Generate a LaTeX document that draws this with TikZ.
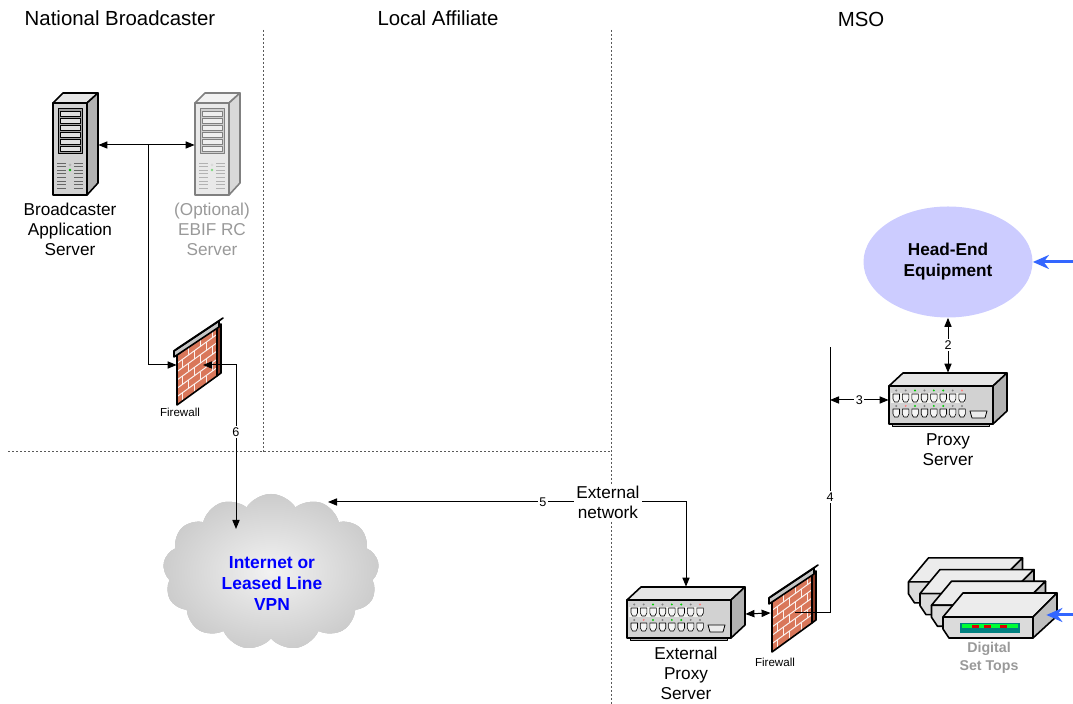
\documentclass[tikz,border=0pt]{standalone}
\usepackage{fontspec}
\setmainfont{Liberation Sans}
\usetikzlibrary{calc, positioning, shapes.geometric, shapes.symbols, arrows.meta}
\definecolor{helav}{HTML}{CCCCFF}
\definecolor{feedblue}{HTML}{3366FF}
\definecolor{vpnblue}{HTML}{0000FF}
\definecolor{optgray}{HTML}{999999}
\definecolor{brick}{HTML}{D9775A}
\definecolor{brickdark}{HTML}{8E3B26}
\newcommand\rjport[2]{\filldraw[fill=gray!8, line width=0.3pt] (#1,#2) -- ++(6.5,0) -- ++(0,5) -- ++(-1.5,3) -- ++(-3.5,0) -- ++(-1.5,-3) -- cycle;}
\newcommand\servertower[3]{\begin{scope}[shift={(#1,#2)}, draw=black!#3!white, line join=round]
\filldraw[fill=gray!20!white!#3!white, line width=0.8pt] (0,0) -- (10,-10) -- (45,-10) -- (34,0) -- cycle;
\filldraw[fill=gray!60!white!#3!white, line width=0.8pt] (34,0) -- (45,-10) -- (45,80) -- (34,92) -- cycle;
\filldraw[fill=gray!35!white!#3!white, line width=0.8pt] (0,0) rectangle (34,92);
\filldraw[fill=gray!75!white!#3!white, line width=0.4pt] (5,5) rectangle (29,50);
\foreach \k in {0,...,5} \filldraw[fill=gray!25!white!#3!white, line width=0.3pt] (7,8+7*\k) rectangle (27,13+7*\k);
\foreach \k in {0,...,7} \draw[gray!80!black!#3!white, line width=0.4pt] (4,60+3.6*\k) -- (13,60+3.6*\k) (21,60+3.6*\k) -- (30,60+3.6*\k);
\fill[gray!60!white!#3!white] (17,62) circle (1.5);
\fill[green!70!black!#3!white] (17,67) circle (1.3);
\end{scope}}
\newcommand\netswitch[2]{\begin{scope}[shift={(#1,#2)}, line join=round]
\filldraw[fill=gray!20, line width=0.8pt] (0,0) -- (14,-13) -- (118,-13) -- (104,0) -- cycle;
\filldraw[fill=gray!60, line width=0.8pt] (104,0) -- (118,-13) -- (118,25) -- (104,38) -- cycle;
\filldraw[fill=gray!55, line width=0.5pt] (3,38) rectangle (100,41);
\filldraw[fill=gray!35, line width=0.8pt] (0,0) rectangle (104,38);
\fill[yellow!12!gray!12] (2,7) rectangle (76,17);
\foreach \i in {0,...,7} {\rjport{4+9.4*\i}{8}\rjport{4+9.4*\i}{23}}
\foreach \i/\ca/\cb in {0/gray/gray, 1/gray/red!50, 2/green!80!black/green!80!black, 3/gray/gray, 4/green!80!black/green!80!black, 5/green!80!black/green!80!black, 6/gray/gray, 7/red!50/gray}
  {\fill[\ca] (7.25+9.4*\i,4.5) circle (1.1); \fill[\cb] (7.25+9.4*\i,20) circle (1.1);}
\filldraw[fill=gray!15, line width=0.4pt] (81,25) -- (98,25) -- (96,32) -- (83,32) -- cycle;
\end{scope}}
\newcommand\firewall[2]{\begin{scope}[shift={(#1,#2)}, line join=round]
\filldraw[fill=brickdark, line width=0.8pt] (40,-29) -- (44,-32) -- (44,-81) -- (40,-79) -- cycle;
\fill[brick] (0,0) -- (0,-50) -- (40,-79) -- (40,-29) -- cycle;
\foreach \k in {1,...,5} \draw[white!90!brick, line width=0.5pt] (0,-8.33*\k) -- (40,-29-8.33*\k);
\foreach \k/\off in {0/0,1/6,2/0,3/6,4/0,5/6} \foreach \m in {0,1,2}
  {\pgfmathsetmacro\xx{5+\off+12*\m}
   \draw[white!90!brick, line width=0.5pt] (\xx,{-8.33*\k-0.725*\xx}) -- (\xx,{-8.33*(\k+1)-0.725*\xx});}
\draw[line width=0.8pt] (0,0) -- (0,-50) -- (40,-79) -- (40,-29) -- cycle;
\filldraw[fill=gray!45, line width=0.8pt] (-3,-48) -- (-3,-54) -- (42,-84) -- (42,-78) -- cycle;
\filldraw[fill=gray!15, line width=0.8pt] (-3,-54) -- (1,-57) -- (46,-87) -- (42,-84) -- cycle;
\end{scope}}
\newcommand\settop[2]{\begin{scope}[shift={(#1,#2)}, line join=round]
\filldraw[fill=gray!15, line width=0.8pt] (0,-21) -- (20,-45) -- (114,-45) -- (90,-21) -- cycle;
\filldraw[fill=gray!50, line width=0.8pt] (90,-21) -- (114,-45) -- (114,-22) -- (90,0) -- cycle;
\filldraw[fill=gray!28, line width=0.8pt] (0,-21) -- (90,-21) -- (90,0) -- (6,0) -- (0,-9) -- cycle;
\fill[teal] (17,-15) rectangle (77,-5);
\fill[green!80!cyan] (19,-13.5) rectangle (75,-9.5);
\foreach \xx in {29,41,57} \fill[red!85!black] (\xx,-13) rectangle (\xx+7,-10);
\end{scope}}
\tikzset{
  hdr/.style={font=\fontsize{10.2}{12}\selectfont},
  lbl/.style={font=\fontsize{8.6}{10}\selectfont, align=center, inner sep=1pt},
  numlbl/.style={font=\fontsize{6.3}{7}\selectfont, fill=white, inner sep=0.8pt},
  fwlbl/.style={font=\fontsize{5.8}{7}\selectfont},
  iconbox/.style={inner sep=0pt, draw=none},
  link/.style={line width=0.5pt, >={Triangle[length=4.5pt,width=3.6pt]}},
  feed/.style={feedblue, line width=1.5pt, -{Stealth[length=8pt,width=7pt]}},
  divider/.style={gray!70!black, line width=0.5pt, dash pattern=on 1pt off 1pt},
  headend/.style={ellipse, fill=helav, minimum width=84.5pt, minimum height=55.5pt, inner sep=0pt, align=center, font=\fontsize{8.6}{10.5}\selectfont\bfseries},
  vpncloud/.style={cloud, cloud puffs=13, cloud puff arc=115, minimum width=108pt, minimum height=78pt, inner color=gray!10, outer color=gray!40, draw=none}
}
\begin{document}
\begin{tikzpicture}[x=0.5pt, y=-0.5pt]
\useasboundingbox (0,0) rectangle (1073,704);

% regions
\draw[divider] (263,30) -- (263,452);
\draw[divider] (611,30) -- (611,704);
\draw[divider] (8,452) -- (611,452);
\node[hdr] (hnb) at (120,18) {National Broadcaster};
\node[hdr] (hla) at (438,18) {Local Affiliate};
\node[hdr] (hmso) at (861,19) {MSO};

% icons
\servertower{53}{103}{100}
\servertower{195}{103}{50}
\firewall{177}{405}
\firewall{772}{652}
\netswitch{627}{600}
\netswitch{889}{386}
\foreach \i in {3,2,1,0} \settop{943-11.5*\i}{638-11.7*\i}
\node[vpncloud] (cloudshape) at (271,572) {};

\node[iconbox, minimum width=22.5pt, minimum height=50pt] (bas) at (75.5,145) {};
\node[iconbox, minimum width=22.5pt, minimum height=50pt] (ebif) at (217.5,145) {};
\node[iconbox, minimum width=20pt, minimum height=40pt] (fw1) at (197,365) {};
\node[iconbox, minimum width=20pt, minimum height=40pt] (fw2) at (791,613) {};
\node[iconbox, minimum width=59pt, minimum height=27pt] (xps) at (686,614) {};
\node[iconbox, minimum width=59pt, minimum height=27pt] (ps) at (948,400) {};
\node[iconbox, minimum width=69pt, minimum height=40.5pt] (stb) at (977,597.5) {};
\node[headend] (he) at (948,262) {Head-End\\Equipment};

% labels
\node[lbl] (baslbl) at (70,229) {Broadcaster\\Application\\Server};
\node[lbl, text=optgray] (ebiflbl) at (212,229) {(Optional)\\EBIF RC\\Server};
\node[fwlbl] (fw1lbl) at (180,412) {Firewall};
\node[fwlbl] (fw2lbl) at (775,662) {Firewall};
\node[lbl] (xpslbl) at (686,673) {External\\Proxy\\Server};
\node[lbl] (pslbl) at (948,450) {Proxy\\Server};
\node[lbl, font=\fontsize{7.1}{9}\selectfont\bfseries, text=optgray] (stblbl) at (989,658) {Digital\\Set Tops};
\node[lbl, font=\fontsize{8.7}{10.5}\selectfont\bfseries, text=vpnblue] (vpn) at (272,584) {Internet or\\Leased Line\\VPN};

% connectors
\coordinate (j1) at (148,145);
\coordinate (c5) at (328,502);
\coordinate (c6) at (236,529);
\coordinate (c3) at (830,400);
\coordinate (c4) at (830,347);
\coordinate (hefeed) at (1073,262);
\coordinate (stfeed) at (1073,615);
\draw[link, <->] (bas.east |- j1) -- (ebif.west |- j1);
\draw[link, ->] (j1) |- (fw1.west);
\draw[link, <->] ($(fw1.center)+(6,0)$) -| (c6) node[numlbl, pos=0.705] {6};
\draw[link, <->] (c5) -| (xps.north) node[numlbl, pos=0.3] {5} node[lbl, fill=white, pos=0.391] {External\\network};
\draw[link, <->] (xps.east) -- (fw2.west);
\draw[link] ($(fw2.center)+(4,0)$) -| (c4) node[numlbl, pos=0.718] {4};
\draw[link, <->] (c3) -- (ps.west) node[numlbl, midway] {3};
\draw[link, <->] (he.south) -- (ps.north) node[numlbl, midway] {2};
\draw[feed] (hefeed) -- (he.east);
\draw[feed] (stfeed) -- (stb.east |- stfeed);
\end{tikzpicture}
\end{document}
